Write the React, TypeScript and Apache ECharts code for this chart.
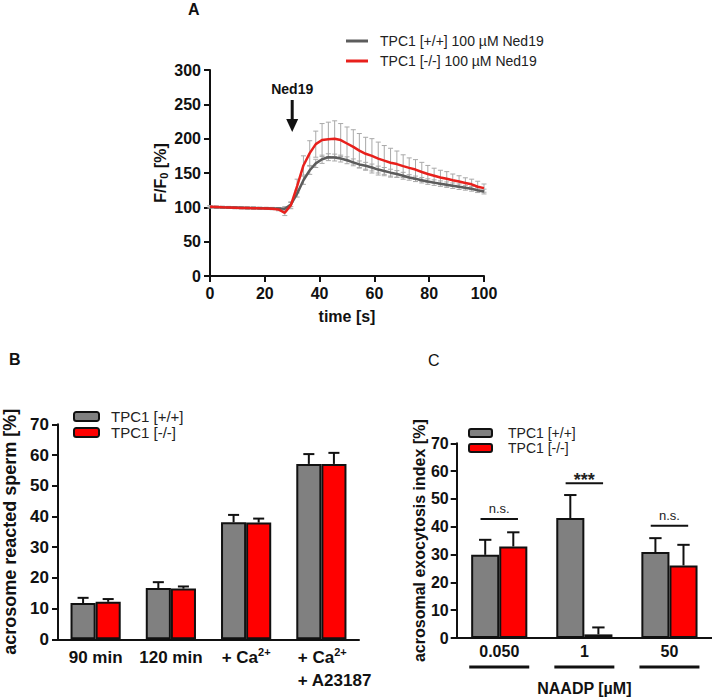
import React, { useEffect, useRef } from "react";
import * as echarts from "echarts";

const FONT = "'Liberation Sans', Arial, Helvetica, sans-serif";

// ---------- Panel A : F/F0 time course ----------
const aTime = [0, 2.3, 4.5, 6.8, 9.1, 11.4, 13.6, 15.9, 18.2, 20.5, 22.7, 25.0, 27.3, 29.5, 31.8, 34.1, 36.4, 38.6, 40.9, 43.2, 45.5, 47.7, 50.0, 52.3, 54.5, 56.8, 59.1, 61.4, 63.6, 65.9, 68.2, 70.5, 72.7, 75.0, 77.3, 79.5, 81.8, 84.1, 86.4, 88.6, 90.9, 93.2, 95.5, 97.7, 100.0];
const aWtMean = [100.5, 100.3, 100, 99.8, 99.6, 99.4, 99.2, 99, 98.8, 98.6, 98.4, 98.2, 98, 104, 120, 139.5, 154, 164, 170, 173, 172.5, 171, 168.5, 165.5, 162.5, 160.5, 158, 155, 153, 150.5, 148.5, 146, 143.5, 141.5, 139.5, 137.5, 136, 134.5, 133, 131.5, 130, 128.5, 127, 125, 123];
const aWtSem = [1.5, 1.5, 1.5, 1.5, 1.5, 1.5, 1.5, 1.5, 1.5, 1.5, 1.5, 1.5, 3, 3, 5, 6, 6, 6, 6, 5, 5, 5, 5, 5, 5, 5, 5, 5, 5, 5, 5, 5, 4, 4, 4, 4, 4, 4, 4, 4, 4, 3.5, 3.5, 3.5, 3.5];
const aKoMean = [101, 100.5, 100, 99.8, 99.5, 99.2, 99, 98.8, 98.5, 98.3, 98, 97, 92, 103, 131, 161, 179, 192, 198, 199, 200, 198, 193, 188, 182.5, 178, 175, 171, 168, 165, 163, 160, 157.5, 155, 151.5, 148.5, 146, 143.5, 141.5, 139.5, 137.5, 135.5, 133.5, 130, 128];
const aKoSem = [1.5, 1.5, 1.5, 1.5, 1.5, 1.5, 1.5, 1.5, 1.5, 1.5, 1.5, 2, 4, 5, 10, 14, 18, 19, 24, 25, 26, 24, 24, 25, 25, 24, 25, 24, 22, 21, 19, 16.5, 14.5, 14.5, 14, 12.5, 11, 10.5, 10.5, 9, 8.5, 7.5, 7.5, 8, 6];
const aWtName = "TPC1 [+/+] 100 µM Ned19";
const aKoName = "TPC1 [-/-] 100 µM Ned19";
const aXTicks = { min: 0, max: 100, interval: 20 };
const aYTicks = { min: 0, max: 300, interval: 50 };
const aArrowTime = 30;

// ---------- Panel B : acrosome reacted sperm ----------
const bCats = ["90 min", "120 min", "+ Ca2+", "+ Ca2+ + A23187"];
const bWt = [11.8, 16.7, 38.1, 57.1];
const bWtSem = [1.7, 1.9, 2.4, 3.2];
const bKo = [12.2, 16.5, 38.0, 57.1];
const bKoSem = [0.9, 0.7, 1.3, 3.6];

// ---------- Panel C : NAADP ----------
const cCats = ["0.050", "1", "50"];
const cWt = [29.9, 43.1, 30.9];
const cWtSem = [5.4, 8.3, 5.0];
const cKo = [32.9, 1.3, 26.1];
const cKoSem = [5.1, 2.5, 7.4];
const cSigLabels = ["n.s.", "***", "n.s."];
const cSigLevels = [42.8, 55.6, 40.4];

const wtName = "TPC1 [+/+]";
const koName = "TPC1 [-/-]";

const GRAY = "#808080";
const RED = "#ff0000";
const BLACK = "#111111";

const axisLine = { show: true, onZero: false, lineStyle: { color: BLACK, width: 2 } };
const axisTick = { show: true, length: 6, lineStyle: { color: BLACK, width: 2 } };
const tickLabel = (size: number, margin: number) => ({
  fontFamily: FONT,
  fontWeight: "bold" as const,
  fontSize: size,
  color: BLACK,
  margin,
});
const nameStyle = (size: number) => ({
  fontFamily: FONT,
  fontWeight: "bold" as const,
  fontSize: size,
  color: BLACK,
});

function timeErrRender(color: string) {
  return (_params: any, api: any) => {
    const t = api.value(0);
    const m = api.value(1);
    const s = api.value(2);
    const top = api.coord([t, m + s]);
    const bot = api.coord([t, m - s]);
    const cw = 2.5;
    const st = { stroke: color, lineWidth: 1 };
    return {
      type: "group",
      children: [
        { type: "line", shape: { x1: top[0], y1: top[1], x2: bot[0], y2: bot[1] }, style: st },
        { type: "line", shape: { x1: top[0] - cw, y1: top[1], x2: top[0] + cw, y2: top[1] }, style: st },
        { type: "line", shape: { x1: bot[0] - cw, y1: bot[1], x2: bot[0] + cw, y2: bot[1] }, style: st },
      ],
    };
  };
}

function barErrRender(side: number, gapFrac: number) {
  return (_params: any, api: any) => {
    const cat = api.value(0);
    const m = api.value(1);
    const s = api.value(2);
    const band = api.size([1, 0])[0];
    const barW = (band * (1 - gapFrac)) / 2;
    const base = api.coord([cat, m]);
    const top = api.coord([cat, m + s]);
    const x = base[0] + (side * barW) / 2;
    const cw = barW * 0.22;
    const st = { stroke: BLACK, lineWidth: 2 };
    return {
      type: "group",
      children: [
        { type: "line", shape: { x1: x, y1: base[1], x2: x, y2: top[1] }, style: st },
        { type: "line", shape: { x1: x - cw, y1: top[1], x2: x + cw, y2: top[1] }, style: st },
      ],
    };
  };
}

function sigRender(_params: any, api: any) {
  const cat = api.value(0);
  const lvl = api.value(1);
  const idx = _params.dataIndex;
  const p = api.coord([cat, lvl]);
  const band = api.size([1, 0])[0];
  const hw = band * 0.22;
  const label = cSigLabels[idx];
  const isStar = label === "***";
  return {
    type: "group",
    children: [
      { type: "line", shape: { x1: p[0] - hw, y1: p[1], x2: p[0] + hw, y2: p[1] }, style: { stroke: BLACK, lineWidth: 2 } },
      {
        type: "text",
        x: p[0],
        y: isStar ? p[1] - 3 : p[1] - 10,
        style: {
          text: label,
          textAlign: "center",
          textVerticalAlign: "middle",
          fontFamily: FONT,
          fontSize: isStar ? 18 : 13,
          fontWeight: isStar ? "bold" : "normal",
          fill: "#222",
        },
      },
    ],
  };
}

function underlineRender(_params: any, api: any) {
  const cat = api.value(0);
  const p = api.coord([cat, 0]);
  const hw = 30;
  return {
    type: "line",
    shape: { x1: p[0] - hw, y1: p[1] + 29, x2: p[0] + hw, y2: p[1] + 29 },
    style: { stroke: BLACK, lineWidth: 3 },
  };
}

const bLabelRich = {
  a: { fontFamily: FONT, fontWeight: "bold", fontSize: 17, color: BLACK, lineHeight: 23 },
  s: { fontFamily: FONT, fontWeight: "bold", fontSize: 11, color: BLACK, lineHeight: 8, verticalAlign: "top" },
  l: { fontFamily: FONT, fontWeight: "bold", fontSize: 17, color: BLACK, lineHeight: 23, align: "left" },
  ls: { fontFamily: FONT, fontWeight: "bold", fontSize: 11, color: BLACK, lineHeight: 8, verticalAlign: "top", align: "left" },
  p: { width: 27, lineHeight: 23, align: "left" },
};

function bFormatter(v: string, i: number) {
  if (i === 2) return "{a|+ Ca}{s|2+}";
  if (i === 3) return "{p| }{l|+ Ca}{ls|2+}\n{p| }{l|+ A23187}";
  return `{a|${v}}`;
}

const BAR_GAP_B = 1 / 3;
const BAR_GAP_C = 0.34;

const option: any = {
  animation: false,
  backgroundColor: "#ffffff",
  textStyle: { fontFamily: FONT },
  grid: [
    { left: 210, top: 70, width: 274, height: 206 },
    { left: 56.5, top: 424.3, width: 302.5, height: 215 },
    { left: 456.7, top: 443.3, width: 255.3, height: 195 },
  ],
  legend: [
    {
      data: [aWtName, aKoName],
      orient: "vertical",
      left: 346,
      top: 34,
      padding: 0,
      icon: "rect",
      itemWidth: 22,
      itemHeight: 3,
      itemGap: 6,
      selectedMode: false,
      textStyle: { fontFamily: FONT, fontSize: 14, color: "#222", padding: [0, 0, 0, 7] },
    },
    {
      data: [wtName, koName],
      orient: "vertical",
      left: 73,
      top: 409,
      padding: 0,
      icon: "roundRect",
      itemWidth: 25,
      itemHeight: 9,
      itemGap: 1,
      selectedMode: false,
      itemStyle: { borderColor: BLACK, borderWidth: 2 },
      textStyle: { fontFamily: FONT, fontSize: 15, color: "#222", padding: [0, 0, 0, 7] },
    },
    {
      data: [wtName, koName],
      orient: "vertical",
      left: 468,
      top: 426,
      padding: 0,
      icon: "roundRect",
      itemWidth: 23,
      itemHeight: 8,
      itemGap: 1,
      selectedMode: false,
      itemStyle: { borderColor: BLACK, borderWidth: 2 },
      textStyle: { fontFamily: FONT, fontSize: 14, color: "#222", padding: [0, 0, 0, 11] },
    },
  ],
  xAxis: [
    {
      type: "value",
      gridIndex: 0,
      ...aXTicks,
      axisLine,
      axisTick,
      splitLine: { show: false },
      axisLabel: tickLabel(16, 9),
      name: "time [s]",
      nameLocation: "middle",
      nameGap: 32,
      nameTextStyle: nameStyle(16),
    },
    {
      type: "category",
      gridIndex: 1,
      data: bCats,
      axisLine,
      axisTick: { show: false },
      axisLabel: { interval: 0, margin: 7, formatter: bFormatter, rich: bLabelRich },
    },
    {
      type: "category",
      gridIndex: 2,
      data: cCats,
      axisLine,
      axisTick: { show: false },
      axisLabel: { ...tickLabel(16, 5), interval: 0 },
      name: "NAADP [µM]",
      nameLocation: "middle",
      nameGap: 42,
      nameTextStyle: nameStyle(16),
    },
  ],
  yAxis: [
    {
      type: "value",
      gridIndex: 0,
      ...aYTicks,
      axisLine,
      axisTick,
      splitLine: { show: false },
      axisLabel: tickLabel(16, 9),
      name: "{a|F/F}{sub|0}{a| [%]}",
      nameLocation: "middle",
      nameGap: 41,
      nameTextStyle: {
        rich: {
          a: { fontFamily: FONT, fontWeight: "bold", fontSize: 16, color: BLACK, lineHeight: 18 },
          sub: { fontFamily: FONT, fontWeight: "bold", fontSize: 11, color: BLACK, lineHeight: 8, verticalAlign: "bottom" },
        },
      },
    },
    {
      type: "value",
      gridIndex: 1,
      min: 0,
      max: 70,
      interval: 10,
      axisLine,
      axisTick,
      splitLine: { show: false },
      axisLabel: tickLabel(17, 9),
      name: "acrosome reacted sperm [%]",
      nameLocation: "middle",
      nameGap: 39,
      nameTextStyle: nameStyle(18),
    },
    {
      type: "value",
      gridIndex: 2,
      min: 0,
      max: 70,
      interval: 10,
      axisLine,
      axisTick,
      splitLine: { show: false },
      axisLabel: tickLabel(16, 8),
      name: "acrosomal exocytosis index [%]",
      nameLocation: "middle",
      nameGap: 28,
      nameTextStyle: nameStyle(16),
    },
  ],
  graphic: [
    { type: "text", left: 188, top: 1, style: { text: "A", fontFamily: FONT, fontWeight: "bold", fontSize: 16, fill: BLACK } },
    { type: "text", left: 9, top: 351, style: { text: "B", fontFamily: FONT, fontWeight: "bold", fontSize: 16, fill: BLACK } },
    { type: "text", left: 428, top: 352, style: { text: "C", fontFamily: FONT, fontWeight: "normal", fontSize: 16, fill: BLACK } },
  ],
  series: [
    // Panel A
    {
      type: "custom",
      xAxisIndex: 0,
      yAxisIndex: 0,
      z: 1,
      encode: { x: 0, y: 1 },
      data: aTime.map((t, i) => [t, aKoMean[i], aKoSem[i]]),
      renderItem: timeErrRender("#a9a9a9"),
      silent: true,
    },
    {
      type: "custom",
      xAxisIndex: 0,
      yAxisIndex: 0,
      z: 1,
      encode: { x: 0, y: 1 },
      data: aTime.map((t, i) => [t, aWtMean[i], aWtSem[i]]),
      renderItem: timeErrRender("#a9a9a9"),
      silent: true,
    },
    {
      type: "line",
      name: aWtName,
      xAxisIndex: 0,
      yAxisIndex: 0,
      z: 3,
      showSymbol: false,
      color: "#5c5c5c",
      lineStyle: { color: "#5c5c5c", width: 2.5 },
      data: aTime.map((t, i) => [t, aWtMean[i]]),
    },
    {
      type: "line",
      name: aKoName,
      xAxisIndex: 0,
      yAxisIndex: 0,
      z: 4,
      showSymbol: false,
      color: "#e8201c",
      lineStyle: { color: "#e8201c", width: 2.5 },
      data: aTime.map((t, i) => [t, aKoMean[i]]),
    },
    // arrow for Ned19 application
    {
      type: "custom",
      xAxisIndex: 0,
      yAxisIndex: 0,
      z: 5,
      encode: { x: 0, y: 1 },
      data: [[aArrowTime, 0]],
      silent: true,
      renderItem: (_p: any, api: any) => {
        const x = api.coord([api.value(0), 0])[0];
        return {
          type: "group",
          children: [
            { type: "line", shape: { x1: x, y1: 100, x2: x, y2: 121 }, style: { stroke: BLACK, lineWidth: 3 } },
            { type: "polygon", shape: { points: [[x - 6, 119], [x + 6, 119], [x, 132]] }, style: { fill: BLACK } },
            {
              type: "text",
              x,
              y: 89,
              style: { text: "Ned19", textAlign: "center", textVerticalAlign: "middle", fontFamily: FONT, fontWeight: "bold", fontSize: 14, fill: BLACK },
            },
          ],
        };
      },
    },
    // Panel B
    {
      type: "bar",
      name: wtName,
      xAxisIndex: 1,
      yAxisIndex: 1,
      barGap: "0%",
      barCategoryGap: "33.3%",
      itemStyle: { color: GRAY, borderColor: BLACK, borderWidth: 2 },
      data: bWt,
    },
    {
      type: "bar",
      name: koName,
      xAxisIndex: 1,
      yAxisIndex: 1,
      barGap: "0%",
      barCategoryGap: "33.3%",
      itemStyle: { color: RED, borderColor: BLACK, borderWidth: 2 },
      data: bKo,
    },
    {
      type: "custom",
      xAxisIndex: 1,
      yAxisIndex: 1,
      z: 3,
      silent: true,
      encode: { x: 0, y: 1 },
      data: bWt.map((v, i) => [i, v, bWtSem[i]]),
      renderItem: barErrRender(-1, BAR_GAP_B),
    },
    {
      type: "custom",
      xAxisIndex: 1,
      yAxisIndex: 1,
      z: 3,
      silent: true,
      encode: { x: 0, y: 1 },
      data: bKo.map((v, i) => [i, v, bKoSem[i]]),
      renderItem: barErrRender(1, BAR_GAP_B),
    },
    // Panel C
    {
      type: "bar",
      name: wtName,
      xAxisIndex: 2,
      yAxisIndex: 2,
      barGap: "0%",
      barCategoryGap: "34%",
      itemStyle: { color: GRAY, borderColor: BLACK, borderWidth: 2 },
      data: cWt,
    },
    {
      type: "bar",
      name: koName,
      xAxisIndex: 2,
      yAxisIndex: 2,
      barGap: "0%",
      barCategoryGap: "34%",
      itemStyle: { color: RED, borderColor: BLACK, borderWidth: 2 },
      data: cKo,
    },
    {
      type: "custom",
      xAxisIndex: 2,
      yAxisIndex: 2,
      z: 3,
      silent: true,
      encode: { x: 0, y: 1 },
      data: cWt.map((v, i) => [i, v, cWtSem[i]]),
      renderItem: barErrRender(-1, BAR_GAP_C),
    },
    {
      type: "custom",
      xAxisIndex: 2,
      yAxisIndex: 2,
      z: 3,
      silent: true,
      encode: { x: 0, y: 1 },
      data: cKo.map((v, i) => [i, v, cKoSem[i]]),
      renderItem: barErrRender(1, BAR_GAP_C),
    },
    {
      type: "custom",
      xAxisIndex: 2,
      yAxisIndex: 2,
      z: 3,
      silent: true,
      encode: { x: 0, y: 1 },
      data: cSigLevels.map((l, i) => [i, l]),
      renderItem: sigRender,
    },
    {
      type: "custom",
      xAxisIndex: 2,
      yAxisIndex: 2,
      z: 3,
      silent: true,
      clip: false,
      encode: { x: 0, y: 1 },
      data: cCats.map((_c, i) => [i, 0]),
      renderItem: underlineRender,
    },
  ],
};

export default function App() {
  const ref = useRef<HTMLDivElement>(null);
  useEffect(() => {
    document.body.style.margin = "0";
    const chart = echarts.init(ref.current as HTMLDivElement, null, { renderer: "svg" });
    chart.setOption(option);
    return () => chart.dispose();
  }, []);
  return <div ref={ref} style={{ width: 712, height: 697, background: "#fff" }} />;
}
